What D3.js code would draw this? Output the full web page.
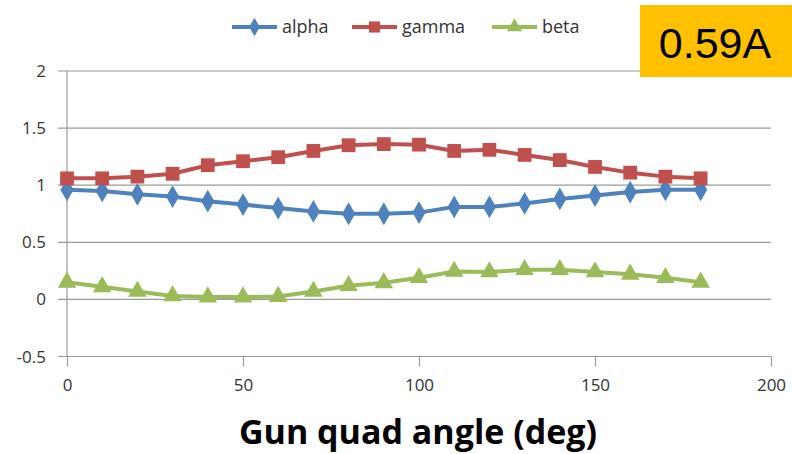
<!DOCTYPE html>
<html>
<head>
<meta charset="utf-8">
<script src="https://cdn.jsdelivr.net/npm/d3@7"></script>
<style>
  body { margin: 0; background: #fff; }
  svg { display: block; }
</style>
</head>
<body>
<svg id="chart" width="792" height="454"></svg>
<script>
// Angle sweep (deg) and measured Twiss-like parameters
const angles = [0, 10, 20, 30, 40, 50, 60, 70, 80, 90, 100, 110, 120, 130, 140, 150, 160, 170, 180];
const alpha = [0.96, 0.95, 0.92, 0.90, 0.86, 0.83, 0.80, 0.77, 0.75, 0.75, 0.76, 0.81, 0.81, 0.84, 0.88, 0.91, 0.94, 0.96, 0.96];
const gamma = [1.06, 1.06, 1.075, 1.10, 1.175, 1.21, 1.245, 1.30, 1.35, 1.36, 1.355, 1.30, 1.31, 1.265, 1.22, 1.16, 1.11, 1.075, 1.06];
const beta  = [0.15, 0.11, 0.07, 0.03, 0.02, 0.02, 0.025, 0.07, 0.12, 0.145, 0.19, 0.245, 0.24, 0.26, 0.26, 0.24, 0.22, 0.19, 0.15];
const xTicks = [0, 50, 100, 150, 200];
const yTicks = [-0.5, 0, 0.5, 1, 1.5, 2];
const seriesNames = ["alpha", "gamma", "beta"];
const badgeText = "0.59A";
const xTitle = "Gun quad angle (deg)";

const colors = { alpha: "#4F81BD", gamma: "#C0504D", beta: "#9BBB59" };
const symbols = { alpha: d3.symbolDiamond, gamma: d3.symbolSquare, beta: d3.symbolTriangle };
const symbolSizes = { alpha: 150, gamma: 190, beta: 150 };
const values = { alpha, gamma, beta };

const svg = d3.select("#chart");
const font = "'Open Sans', Lato, sans-serif";

const x = d3.scaleLinear().domain([0, 200]).range([67, 771]);
const y = d3.scaleLinear().domain([-0.5, 2]).range([356.5, 71]);

// Horizontal gridlines
svg.append("g")
  .selectAll("line")
  .data(yTicks)
  .join("line")
  .attr("x1", 58).attr("x2", 771)
  .attr("y1", d => y(d)).attr("y2", d => y(d))
  .attr("stroke", "#9a9a9a").attr("stroke-width", 1.2);

// Y axis line
svg.append("line")
  .attr("x1", x(0)).attr("x2", x(0))
  .attr("y1", y(2)).attr("y2", y(-0.5))
  .attr("stroke", "#9a9a9a").attr("stroke-width", 1.2);

// Y axis labels
svg.append("g")
  .selectAll("text")
  .data(yTicks)
  .join("text")
  .attr("x", 46).attr("y", d => y(d) + 6)
  .attr("text-anchor", "end")
  .attr("font-family", font).attr("font-size", 17).attr("fill", "#333")
  .text(d => d);

// X axis ticks and labels
const xAxis = d3.axisBottom(x).tickValues(xTicks).tickSize(10).tickPadding(12).tickFormat(d3.format("d"));
const gx = svg.append("g").attr("transform", `translate(0,${y(-0.5)})`).call(xAxis);
gx.select(".domain").remove();
gx.selectAll(".tick line").attr("stroke", "#9a9a9a").attr("stroke-width", 1.2);
gx.selectAll(".tick text").attr("font-family", font).attr("font-size", 17).attr("fill", "#333");

// Series lines and markers
const line = d3.line().x((d, i) => x(angles[i])).y(d => y(d));
seriesNames.forEach(name => {
  const g = svg.append("g");
  g.append("path")
    .datum(values[name])
    .attr("d", line)
    .attr("fill", "none")
    .attr("stroke", colors[name])
    .attr("stroke-width", 4)
    .attr("stroke-linejoin", "round");
  g.selectAll("path.pt")
    .data(values[name])
    .join("path")
    .attr("class", "pt")
    .attr("transform", (d, i) => `translate(${x(angles[i])},${y(d)})`)
    .attr("d", d3.symbol().type(symbols[name]).size(symbolSizes[name]))
    .attr("fill", colors[name]);
});

// Legend
const legendX = { alpha: 232, gamma: 352, beta: 492 };
seriesNames.forEach(name => {
  const lx = legendX[name], ly = 27;
  svg.append("line")
    .attr("x1", lx).attr("x2", lx + 45).attr("y1", ly).attr("y2", ly)
    .attr("stroke", colors[name]).attr("stroke-width", 4);
  svg.append("path")
    .attr("transform", `translate(${lx + 22.5},${ly})`)
    .attr("d", d3.symbol().type(symbols[name]).size(symbolSizes[name] * 0.65))
    .attr("fill", colors[name]);
  svg.append("text")
    .attr("x", lx + 50).attr("y", ly + 6)
    .attr("font-family", font).attr("font-size", 18).attr("fill", "#333")
    .text(name);
});

// Current badge
svg.append("rect")
  .attr("x", 640).attr("y", 5).attr("width", 152).attr("height", 72)
  .attr("fill", "#FFC000");
svg.append("text")
  .attr("x", 715).attr("y", 58)
  .attr("text-anchor", "middle")
  .attr("font-family", "'Liberation Sans', Arial, sans-serif")
  .attr("font-size", 43).attr("fill", "#000")
  .text(badgeText);

// X axis title
svg.append("text")
  .attr("x", 418).attr("y", 444)
  .attr("text-anchor", "middle")
  .attr("font-family", font).attr("font-weight", "bold")
  .attr("font-size", 34).attr("fill", "#000")
  .text(xTitle);
</script>
</body>
</html>
